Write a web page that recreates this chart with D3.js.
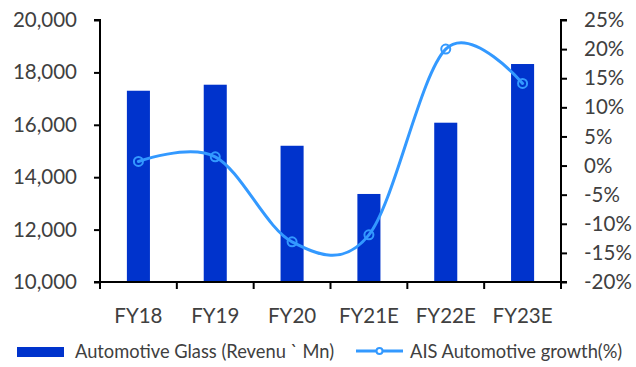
<!DOCTYPE html>
<html>
<head>
<meta charset="utf-8">
<script src="https://cdn.jsdelivr.net/npm/d3@7"></script>
<style>
  html, body { margin: 0; padding: 0; background: #fff; }
  svg { display: block; }
  text { font-family: Lato, "Open Sans", sans-serif; fill: #404040; }
</style>
</head>
<body>
<svg id="chart" width="636" height="367"></svg>
<script>
// Fiscal years on the category axis
const categories = ["FY18", "FY19", "FY20", "FY21E", "FY22E", "FY23E"];
// Automotive glass revenue (Rs Mn), left axis
const revenue = [17300, 17530, 15200, 13360, 16080, 18320];
// AIS automotive growth (%), right axis
const growth = [0.7, 1.5, -13.1, -11.9, 20.0, 14.1];
// Axis tick values
const leftTicks = [10000, 12000, 14000, 16000, 18000, 20000];
const rightTicks = [-20, -15, -10, -5, 0, 5, 10, 15, 20, 25];
// Legend labels
const legendLabels = ["Automotive Glass (Revenu ` Mn)", "AIS Automotive growth(%)"];

const barColor = "#0033cc";
const lineColor = "#3399ff";

const svg = d3.select("#chart");
const plot = { left: 100, right: 561, top: 20, bottom: 282 };

const x = d3.scaleBand().domain(categories).range([plot.left, plot.right]);
const yL = d3.scaleLinear().domain([10000, 20000]).range([plot.bottom, plot.top]);
const yR = d3.scaleLinear().domain([-20, 25]).range([plot.bottom, plot.top]);

const barW = x.bandwidth() * 0.3;

// Bars
svg.append("g").selectAll("rect")
  .data(categories)
  .join("rect")
  .attr("x", (d) => x(d) + (x.bandwidth() - barW) / 2)
  .attr("width", barW)
  .attr("y", (d, i) => yL(revenue[i]))
  .attr("height", (d, i) => yL(10000) - yL(revenue[i]))
  .attr("fill", barColor);

// Smoothed growth line
const pts = categories.map((c, i) => [x(c) + x.bandwidth() / 2, yR(growth[i])]);
svg.append("path")
  .datum(pts)
  .attr("d", d3.line().curve(d3.curveCardinal.tension(0)))
  .attr("fill", "none")
  .attr("stroke", lineColor)
  .attr("stroke-width", 3)
  .attr("stroke-linecap", "round");

svg.append("g").selectAll("circle")
  .data(pts)
  .join("circle")
  .attr("cx", (d) => d[0])
  .attr("cy", (d) => d[1])
  .attr("r", 4.5)
  .attr("fill", "none")
  .attr("stroke", lineColor)
  .attr("stroke-width", 2);

// Axes
const fmt = d3.format(",");
const axisL = svg.append("g")
  .attr("transform", `translate(${plot.left},0)`)
  .call(d3.axisLeft(yL).tickValues(leftTicks).tickFormat(fmt).tickSize(6).tickPadding(17));

const axisR = svg.append("g")
  .attr("transform", `translate(${plot.right},0)`)
  .call(d3.axisRight(yR).tickValues(rightTicks).tickFormat((d) => d + "%").tickSize(6).tickPadding(17));

const xBounds = categories.map((c) => x(c)).concat([plot.right]);
const axisB = svg.append("g")
  .attr("transform", `translate(0,${plot.bottom})`)
  .call(d3.axisBottom(x).tickSize(0).tickPadding(26));
axisB.selectAll(".tick line").remove();
axisB.selectAll("g.bt").data(xBounds).join("line")
  .attr("x1", (d) => d).attr("x2", (d) => d)
  .attr("y1", 0).attr("y2", 7)
  .attr("stroke", "#000").attr("stroke-width", 2);

[axisL, axisR, axisB].forEach((g) => {
  g.select(".domain").attr("stroke", "#000").attr("stroke-width", 2);
  g.selectAll(".tick line").attr("stroke", "#000").attr("stroke-width", 2);
  g.selectAll("text").attr("font-size", 20.5).attr("fill", "#404040")
    .style("font-family", "Lato, 'Open Sans', sans-serif");
});
axisL.select(".domain").attr("d", `M-6,${plot.top}H0V${plot.bottom}H-6`);
axisR.select(".domain").attr("d", `M6,${plot.top}H0V${plot.bottom}H6`);
axisB.select(".domain").attr("d", `M${plot.left},0H${plot.right}`);

// Legend
const leg = svg.append("g");
leg.append("rect")
  .attr("x", 17).attr("y", 347).attr("width", 47).attr("height", 10)
  .attr("fill", barColor);
leg.append("text")
  .attr("x", 75).attr("y", 352).attr("dy", "0.35em")
  .attr("font-size", 18.3).text(legendLabels[0]);
leg.append("line")
  .attr("x1", 356).attr("x2", 403).attr("y1", 351).attr("y2", 351)
  .attr("stroke", lineColor).attr("stroke-width", 3);
leg.append("circle")
  .attr("cx", 379.5).attr("cy", 351).attr("r", 3)
  .attr("fill", "#fff").attr("stroke", lineColor).attr("stroke-width", 2);
leg.append("text")
  .attr("x", 410).attr("y", 352).attr("dy", "0.35em")
  .attr("font-size", 18.3).text(legendLabels[1]);
</script>
</body>
</html>
